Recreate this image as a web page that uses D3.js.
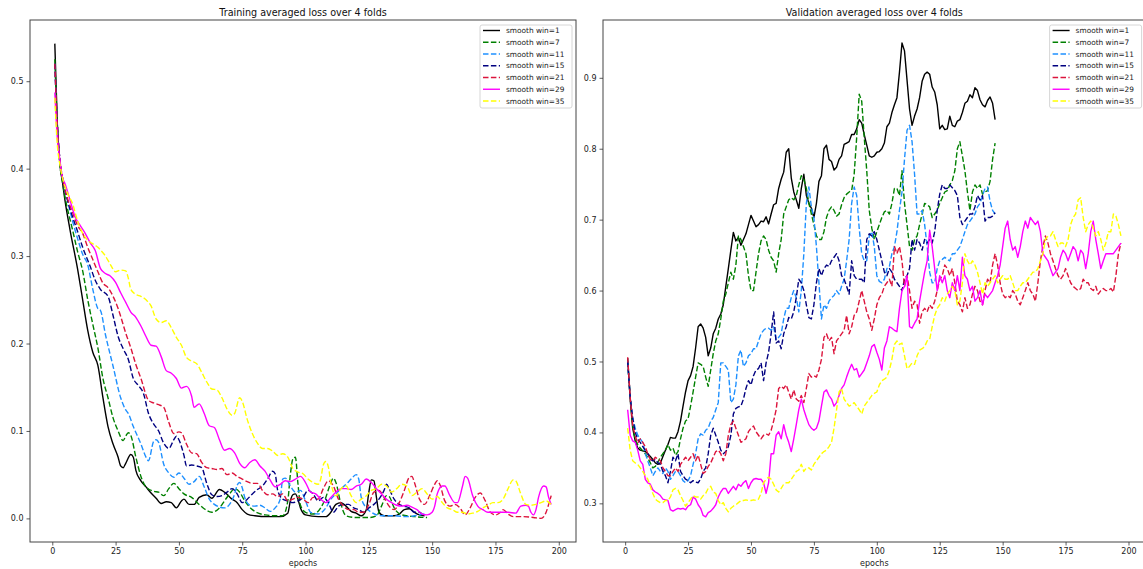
<!DOCTYPE html>
<html>
<head>
<meta charset="utf-8">
<script src="https://cdn.jsdelivr.net/npm/d3@7"></script>
<style>
  html, body { margin: 0; padding: 0; background: #fff; }
  svg { display: block; font-family: "DejaVu Sans", sans-serif; }
</style>
</head>
<body>
<svg id="chart" width="1143" height="569"></svg>
<script>
// ---- legend / series definitions ----
const seriesLabels = ["smooth win=1", "smooth win=7", "smooth win=11", "smooth win=15",
                      "smooth win=21", "smooth win=29", "smooth win=35"];
const seriesColors = ["#000000", "#008000", "#1e90ff", "#000080", "#dc143c", "#ff00ff", "#ffff00"];
const seriesDashed = [false, true, true, true, true, false, true];

const xTicks = [0, 25, 50, 75, 100, 125, 150, 175, 200];
const trainYTicks = [0.0, 0.1, 0.2, 0.3, 0.4, 0.5];
const valYTicks = [0.3, 0.4, 0.5, 0.6, 0.7, 0.8, 0.9];

// ---- training loss, [epoch, loss] ----
const trainWin1 = [[1,0.543],[2,0.45],[3,0.405],[4,0.385],[5,0.364],[7,0.33],[10,0.285],[12,0.25],[14,0.215],[16,0.19],[18,0.175],[20,0.138],[22,0.105],[24,0.085],[26,0.07],[27,0.06],[28,0.058],[29,0.063],[31,0.073],[32,0.07],[33,0.055],[35,0.043],[37,0.036],[39,0.029],[41,0.023],[43,0.017],[45,0.019],[47,0.018],[49,0.012],[51,0.02],[52,0.022],[54,0.016],[56,0.016],[58,0.024],[61,0.027],[63,0.023],[66,0.033],[68,0.03],[71,0.022],[73,0.018],[75,0.01],[77,0.005],[80,0.003],[85,0.002],[90,0.002],[93,0.006],[94,0.02],[95,0.027],[96,0.028],[97,0.022],[98,0.012],[100,0.004],[105,0.002],[108,0.002],[110,0.007],[112,0.016],[114,0.018],[116,0.014],[118,0.008],[120,0.006],[122,0.003],[124,0.01],[125,0.03],[126,0.044],[127,0.043],[128,0.024],[129,0.007],[131,0.003],[135,0.003],[137,0.005],[139,0.01],[141,0.011],[143,0.007],[145,0.004],[147,0.003]];
const trainWin7 = [[1,0.525],[2,0.45],[3,0.405],[4,0.385],[5,0.368],[8,0.33],[10,0.305],[12,0.283],[14,0.25],[16,0.222],[18,0.195],[20,0.16],[22,0.138],[24,0.115],[26,0.1],[28,0.089],[29,0.094],[30,0.098],[31,0.095],[33,0.07],[35,0.048],[37,0.036],[40,0.031],[42,0.03],[44,0.026],[46,0.034],[48,0.04],[50,0.034],[52,0.028],[55,0.024],[58,0.016],[60,0.011],[63,0.007],[66,0.012],[68,0.02],[70,0.028],[72,0.034],[74,0.03],[76,0.02],[79,0.01],[84,0.004],[88,0.003],[91,0.003],[93,0.02],[94,0.05],[95,0.068],[96,0.07],[97,0.04],[98,0.015],[100,0.007],[103,0.005],[106,0.012],[108,0.024],[110,0.041],[111,0.046],[112,0.041],[114,0.016],[116,0.003],[120,0.001],[125,0.001],[128,0.003],[130,0.014],[132,0.026],[133,0.025],[135,0.012],[138,0.004],[143,0.002],[148,0.001]];
const trainWin11 = [[1,0.52],[2,0.45],[3,0.41],[4,0.39],[6,0.364],[8,0.34],[10,0.32],[12,0.302],[14,0.29],[16,0.262],[18,0.24],[19,0.238],[21,0.21],[24,0.174],[27,0.138],[29,0.124],[30,0.12],[32,0.105],[35,0.085],[37,0.07],[38,0.066],[40,0.088],[41,0.09],[42,0.087],[44,0.062],[46,0.052],[48,0.047],[50,0.052],[52,0.046],[54,0.039],[56,0.042],[58,0.048],[60,0.036],[62,0.022],[64,0.016],[66,0.013],[68,0.012],[70,0.016],[72,0.028],[73,0.038],[74,0.041],[75,0.035],[76,0.024],[78,0.015],[80,0.014],[82,0.015],[84,0.012],[86,0.008],[88,0.012],[90,0.022],[91,0.045],[92,0.046],[94,0.037],[96,0.03],[98,0.032],[100,0.02],[102,0.007],[105,0.005],[108,0.012],[110,0.022],[112,0.028],[114,0.034],[116,0.039],[118,0.045],[120,0.05],[121,0.045],[122,0.024],[124,0.012],[126,0.007],[130,0.003],[135,0.003],[140,0.002],[145,0.004],[147,0.005]];
const trainWin15 = [[1,0.52],[2,0.45],[3,0.41],[4,0.39],[6,0.364],[8,0.345],[10,0.328],[12,0.31],[15,0.288],[17,0.272],[19,0.262],[22,0.254],[24,0.232],[26,0.208],[28,0.194],[30,0.182],[32,0.16],[34,0.152],[36,0.143],[38,0.12],[40,0.108],[42,0.1],[44,0.086],[46,0.08],[48,0.09],[49,0.094],[50,0.09],[52,0.072],[53,0.06],[55,0.061],[57,0.06],[59,0.058],[61,0.04],[63,0.027],[65,0.025],[67,0.026],[69,0.03],[71,0.034],[73,0.028],[75,0.018],[77,0.022],[79,0.028],[81,0.033],[83,0.037],[85,0.045],[87,0.054],[88,0.051],[89,0.032],[91,0.022],[93,0.02],[95,0.018],[97,0.02],[99,0.024],[101,0.032],[103,0.028],[105,0.02],[107,0.024],[109,0.018],[111,0.007],[113,0.014],[115,0.016],[117,0.016],[119,0.012],[121,0.01],[123,0.007],[125,0.012],[127,0.016],[129,0.022],[131,0.032],[132,0.039],[133,0.034],[135,0.022],[137,0.016],[139,0.014],[141,0.012],[143,0.007],[145,0.007],[146,0.005]];
const trainWin21 = [[1,0.52],[2,0.45],[3,0.41],[4,0.39],[6,0.366],[8,0.35],[10,0.335],[12,0.326],[14,0.31],[16,0.296],[18,0.282],[20,0.269],[22,0.264],[24,0.254],[26,0.24],[29,0.212],[31,0.195],[33,0.176],[35,0.16],[38,0.135],[40,0.132],[42,0.13],[44,0.127],[46,0.11],[48,0.097],[50,0.099],[51,0.098],[53,0.085],[55,0.075],[57,0.074],[59,0.064],[61,0.058],[63,0.057],[65,0.056],[67,0.057],[69,0.05],[71,0.052],[73,0.048],[75,0.045],[77,0.042],[79,0.04],[81,0.04],[83,0.032],[85,0.027],[87,0.028],[89,0.025],[91,0.028],[93,0.02],[95,0.022],[97,0.024],[99,0.022],[101,0.018],[103,0.024],[105,0.022],[107,0.034],[109,0.043],[111,0.037],[113,0.022],[115,0.014],[117,0.01],[119,0.01],[121,0.007],[123,0.007],[125,0.016],[127,0.03],[129,0.032],[131,0.024],[133,0.014],[135,0.01],[137,0.018],[139,0.032],[141,0.047],[142,0.048],[143,0.041],[145,0.022],[147,0.016],[149,0.026],[151,0.039],[152,0.043],[153,0.039],[155,0.02],[157,0.014],[159,0.016],[161,0.012],[163,0.004],[165,0.012],[167,0.024],[169,0.029],[171,0.02],[173,0.007],[175,0.004],[177,0.007],[178,0.01],[180,0.005],[182,0.002],[186,0.002],[190,0.001],[193,0.0],[195,0.007],[196,0.016],[197,0.026]];
const trainWin29 = [[1,0.487],[2,0.435],[3,0.41],[4,0.39],[5,0.383],[7,0.364],[9,0.345],[11,0.335],[13,0.326],[15,0.315],[17,0.306],[19,0.286],[21,0.28],[23,0.277],[25,0.27],[27,0.258],[29,0.247],[31,0.236],[33,0.23],[35,0.22],[37,0.208],[39,0.198],[41,0.197],[43,0.185],[45,0.169],[47,0.166],[49,0.16],[51,0.149],[53,0.151],[55,0.14],[56,0.127],[58,0.131],[60,0.12],[62,0.106],[64,0.104],[66,0.09],[68,0.078],[70,0.08],[72,0.075],[74,0.063],[76,0.058],[78,0.064],[80,0.067],[82,0.06],[84,0.054],[86,0.044],[88,0.036],[90,0.039],[92,0.043],[94,0.042],[96,0.045],[98,0.048],[100,0.041],[102,0.03],[104,0.028],[106,0.022],[108,0.018],[110,0.024],[112,0.03],[114,0.034],[116,0.034],[118,0.033],[120,0.037],[122,0.039],[124,0.045],[126,0.041],[128,0.034],[130,0.028],[132,0.022],[134,0.018],[136,0.015],[138,0.014],[140,0.015],[142,0.013],[144,0.01],[146,0.005],[148,0.004],[150,0.007],[151,0.014],[152,0.028],[154,0.037],[155,0.037],[157,0.026],[159,0.018],[160,0.018],[162,0.037],[163,0.048],[164,0.046],[166,0.026],[168,0.014],[170,0.01],[172,0.007],[176,0.007],[180,0.007],[183,0.006],[185,0.014],[187,0.015],[188,0.014],[189,0.007],[190,0.004],[191,0.01],[192,0.024],[194,0.037],[195,0.036],[196,0.024],[197,0.016]];
const trainWin35 = [[1,0.481],[2,0.427],[3,0.405],[4,0.39],[6,0.372],[8,0.36],[10,0.34],[12,0.326],[14,0.318],[16,0.314],[18,0.31],[19,0.307],[21,0.3],[23,0.29],[25,0.282],[27,0.284],[29,0.283],[30,0.275],[31,0.262],[33,0.256],[35,0.254],[37,0.25],[39,0.243],[41,0.228],[43,0.224],[45,0.226],[47,0.218],[49,0.207],[51,0.198],[53,0.184],[55,0.18],[57,0.177],[59,0.167],[61,0.156],[63,0.148],[65,0.147],[67,0.138],[69,0.125],[71,0.118],[72,0.12],[74,0.138],[75,0.134],[77,0.113],[79,0.097],[81,0.086],[83,0.08],[85,0.08],[87,0.077],[89,0.072],[91,0.074],[93,0.07],[95,0.057],[97,0.053],[99,0.051],[101,0.045],[103,0.041],[105,0.039],[106,0.045],[107,0.061],[108,0.065],[109,0.059],[110,0.041],[112,0.026],[114,0.034],[116,0.037],[118,0.026],[120,0.018],[122,0.022],[124,0.026],[126,0.032],[128,0.034],[130,0.039],[132,0.037],[134,0.03],[136,0.034],[138,0.039],[140,0.037],[142,0.026],[144,0.03],[146,0.034],[148,0.028],[150,0.022],[152,0.025],[154,0.018],[156,0.012],[158,0.01],[160,0.007],[162,0.007],[164,0.005],[166,0.006],[168,0.008],[170,0.012],[172,0.015],[174,0.018],[176,0.018],[178,0.022],[180,0.034],[182,0.044],[183,0.043],[185,0.028],[187,0.016],[189,0.015],[191,0.016],[193,0.018],[195,0.02],[197,0.016]];

// ---- validation loss, one value per epoch starting at epoch 1 ----
const valWin1 = [0.505,0.447,0.406,0.388,0.378,0.375,0.374,0.373,0.37,0.366,0.362,0.357,0.355,0.357,0.366,0.375,0.383,0.393,0.392,0.392,
  0.401,0.416,0.437,0.457,0.473,0.48,0.493,0.519,0.549,0.553,0.547,0.534,0.508,0.519,0.539,0.547,0.56,0.567,0.58,0.606,
  0.631,0.657,0.682,0.67,0.675,0.664,0.672,0.68,0.693,0.706,0.698,0.69,0.693,0.698,0.697,0.704,0.694,0.708,0.721,0.723,
  0.744,0.757,0.767,0.795,0.8,0.759,0.739,0.728,0.716,0.744,0.764,0.734,0.723,0.716,0.703,0.723,0.754,0.762,0.8,0.805,
  0.785,0.782,0.77,0.774,0.785,0.79,0.806,0.808,0.81,0.82,0.82,0.828,0.841,0.836,0.82,0.805,0.79,0.788,0.79,0.795,
  0.796,0.8,0.808,0.831,0.836,0.851,0.862,0.872,0.908,0.949,0.938,0.897,0.856,0.833,0.846,0.856,0.872,0.895,0.905,0.908,
  0.905,0.887,0.88,0.862,0.828,0.833,0.827,0.828,0.846,0.833,0.831,0.839,0.841,0.851,0.864,0.867,0.876,0.872,0.886,0.882,
  0.869,0.862,0.859,0.868,0.873,0.864,0.841];
const valWin7 = [0.5,0.45,0.41,0.39,0.383,0.378,0.374,0.37,0.364,0.357,0.35,0.352,0.358,0.365,0.37,0.375,0.383,0.375,0.378,0.368,
  0.373,0.391,0.406,0.416,0.419,0.437,0.457,0.478,0.498,0.496,0.493,0.478,0.465,0.488,0.511,0.529,0.539,0.56,0.585,0.595,
  0.611,0.626,0.616,0.636,0.677,0.672,0.662,0.652,0.621,0.6,0.6,0.626,0.652,0.67,0.677,0.672,0.657,0.647,0.642,0.626,
  0.652,0.672,0.708,0.718,0.728,0.731,0.728,0.734,0.749,0.762,0.757,0.744,0.723,0.708,0.693,0.677,0.672,0.672,0.683,0.703,
  0.713,0.718,0.713,0.705,0.708,0.721,0.731,0.736,0.739,0.741,0.764,0.816,0.877,0.867,0.816,0.769,0.713,0.688,0.672,0.683,
  0.693,0.703,0.711,0.713,0.708,0.723,0.744,0.744,0.734,0.769,0.723,0.693,0.662,0.657,0.672,0.677,0.693,0.708,0.723,0.721,
  0.718,0.703,0.708,0.713,0.723,0.731,0.739,0.741,0.749,0.755,0.769,0.8,0.81,0.79,0.769,0.739,0.713,0.739,0.749,0.744,
  0.749,0.736,0.739,0.741,0.754,0.785,0.808];
const valWin11 = [0.5,0.45,0.42,0.406,0.396,0.391,0.386,0.37,0.36,0.35,0.339,0.345,0.35,0.345,0.342,0.35,0.345,0.334,0.339,0.345,
  0.345,0.339,0.332,0.329,0.332,0.339,0.355,0.37,0.391,0.398,0.396,0.403,0.406,0.416,0.421,0.432,0.442,0.498,0.498,0.493,
  0.488,0.442,0.447,0.467,0.508,0.516,0.493,0.498,0.508,0.511,0.518,0.518,0.529,0.539,0.544,0.547,0.547,0.544,0.549,0.531,
  0.534,0.539,0.56,0.575,0.575,0.59,0.6,0.59,0.57,0.6,0.652,0.723,0.746,0.718,0.703,0.662,0.611,0.56,0.58,0.575,
  0.585,0.59,0.593,0.6,0.595,0.606,0.616,0.642,0.672,0.723,0.746,0.734,0.688,0.652,0.642,0.642,0.677,0.683,0.662,0.621,
  0.613,0.611,0.616,0.631,0.634,0.652,0.662,0.683,0.713,0.739,0.785,0.826,0.833,0.81,0.764,0.708,0.708,0.713,0.693,0.662,
  0.626,0.611,0.611,0.631,0.642,0.644,0.647,0.644,0.642,0.652,0.652,0.657,0.662,0.672,0.683,0.693,0.698,0.703,0.708,0.718,
  0.723,0.734,0.744,0.746,0.726,0.713,0.708];
const valWin15 = [0.5,0.45,0.42,0.4,0.39,0.386,0.38,0.375,0.37,0.362,0.36,0.362,0.357,0.355,0.345,0.339,0.329,0.345,0.365,0.36,
  0.37,0.345,0.339,0.334,0.332,0.329,0.332,0.33,0.329,0.334,0.345,0.35,0.37,0.396,0.406,0.396,0.386,0.375,0.37,0.373,
  0.38,0.396,0.426,0.434,0.436,0.437,0.447,0.462,0.473,0.467,0.48,0.488,0.49,0.498,0.473,0.498,0.513,0.539,0.57,0.526,
  0.529,0.518,0.539,0.549,0.562,0.56,0.57,0.59,0.616,0.611,0.6,0.58,0.562,0.56,0.58,0.611,0.631,0.621,0.631,0.636,
  0.634,0.642,0.647,0.652,0.642,0.621,0.616,0.606,0.595,0.642,0.621,0.616,0.616,0.616,0.611,0.672,0.68,0.677,0.683,0.672,
  0.657,0.642,0.626,0.621,0.631,0.626,0.616,0.611,0.606,0.6,0.616,0.621,0.631,0.672,0.657,0.672,0.667,0.657,0.672,0.667,
  0.672,0.667,0.683,0.713,0.736,0.749,0.744,0.744,0.749,0.745,0.741,0.734,0.703,0.693,0.698,0.703,0.708,0.708,0.718,0.734,
  0.728,0.734,0.698,0.703,0.703,0.705,0.71];
const valWin21 = [0.506,0.45,0.41,0.395,0.385,0.391,0.386,0.38,0.37,0.362,0.36,0.365,0.362,0.36,0.35,0.345,0.339,0.339,0.345,0.35,
  0.345,0.355,0.36,0.365,0.36,0.365,0.37,0.36,0.368,0.355,0.342,0.345,0.352,0.357,0.365,0.373,0.375,0.37,0.36,0.37,
  0.396,0.411,0.416,0.406,0.396,0.386,0.388,0.391,0.401,0.406,0.409,0.401,0.396,0.391,0.396,0.398,0.396,0.403,0.416,0.432,
  0.462,0.465,0.462,0.467,0.457,0.447,0.46,0.447,0.444,0.452,0.442,0.462,0.483,0.478,0.48,0.478,0.488,0.503,0.534,0.539,
  0.529,0.534,0.511,0.529,0.534,0.539,0.544,0.565,0.539,0.549,0.565,0.57,0.585,0.6,0.585,0.57,0.56,0.544,0.56,0.58,
  0.59,0.595,0.606,0.611,0.616,0.606,0.662,0.652,0.662,0.642,0.606,0.621,0.6,0.575,0.585,0.58,0.554,0.57,0.575,0.57,
  0.58,0.575,0.585,0.6,0.616,0.621,0.636,0.631,0.621,0.631,0.611,0.585,0.58,0.57,0.59,0.575,0.58,0.595,0.606,0.6,
  0.585,0.58,0.6,0.616,0.611,0.636,0.652,0.636,0.611,0.595,0.59,0.593,0.59,0.6,0.595,0.585,0.58,0.59,0.6,0.611,
  0.6,0.595,0.585,0.611,0.642,0.662,0.677,0.667,0.652,0.642,0.631,0.621,0.616,0.621,0.631,0.621,0.611,0.606,0.603,0.6,
  0.603,0.616,0.611,0.611,0.603,0.6,0.606,0.595,0.6,0.603,0.6,0.6,0.603,0.598,0.621,0.652,0.667];
const valWin29 = [0.432,0.396,0.388,0.386,0.375,0.36,0.355,0.334,0.329,0.327,0.319,0.316,0.314,0.311,0.306,0.305,0.304,0.291,0.289,0.291,
  0.293,0.292,0.293,0.291,0.296,0.298,0.309,0.306,0.298,0.293,0.283,0.281,0.287,0.289,0.293,0.298,0.309,0.316,0.321,0.321,
  0.314,0.319,0.324,0.319,0.327,0.324,0.329,0.332,0.321,0.329,0.334,0.335,0.334,0.334,0.329,0.314,0.329,0.37,0.37,0.396,
  0.401,0.391,0.411,0.396,0.386,0.373,0.391,0.411,0.432,0.447,0.432,0.421,0.411,0.406,0.403,0.406,0.416,0.437,0.457,0.46,
  0.452,0.447,0.437,0.442,0.452,0.462,0.467,0.478,0.488,0.496,0.488,0.49,0.478,0.483,0.488,0.498,0.508,0.521,0.524,0.513,
  0.503,0.488,0.519,0.529,0.549,0.547,0.544,0.542,0.575,0.6,0.606,0.621,0.549,0.547,0.554,0.56,0.585,0.606,0.626,0.642,
  0.685,0.662,0.631,0.6,0.621,0.611,0.621,0.6,0.59,0.611,0.6,0.621,0.6,0.647,0.621,0.616,0.6,0.606,0.585,0.59,
  0.6,0.58,0.595,0.59,0.595,0.6,0.611,0.621,0.636,0.662,0.688,0.698,0.672,0.657,0.662,0.647,0.662,0.683,0.698,0.688,
  0.703,0.698,0.693,0.698,0.683,0.652,0.647,0.642,0.631,0.621,0.626,0.631,0.647,0.657,0.652,0.642,0.652,0.662,0.657,0.642,
  0.657,0.652,0.631,0.652,0.683,0.698,0.672,0.652,0.631,0.642,0.652,0.652,0.652,0.652,0.657,0.662,0.667];
const valWin35 = [0.406,0.375,0.36,0.357,0.355,0.35,0.345,0.339,0.334,0.324,0.314,0.306,0.303,0.301,0.301,0.304,0.304,0.309,0.319,0.321,
  0.319,0.311,0.304,0.296,0.301,0.306,0.311,0.309,0.309,0.306,0.311,0.314,0.321,0.324,0.316,0.314,0.304,0.298,0.301,0.293,
  0.288,0.293,0.296,0.298,0.301,0.304,0.304,0.305,0.304,0.304,0.305,0.304,0.306,0.314,0.329,0.334,0.337,0.334,0.327,0.319,
  0.316,0.321,0.327,0.329,0.329,0.334,0.339,0.345,0.347,0.355,0.345,0.35,0.35,0.347,0.355,0.36,0.365,0.37,0.373,0.375,
  0.38,0.386,0.406,0.432,0.457,0.462,0.447,0.442,0.437,0.439,0.442,0.437,0.432,0.426,0.437,0.442,0.447,0.452,0.455,0.457,
  0.467,0.473,0.475,0.478,0.488,0.503,0.524,0.529,0.524,0.526,0.508,0.49,0.493,0.498,0.496,0.508,0.516,0.518,0.521,0.529,
  0.531,0.549,0.565,0.575,0.58,0.59,0.585,0.595,0.6,0.606,0.6,0.58,0.585,0.611,0.652,0.642,0.636,0.642,0.636,0.626,
  0.611,0.595,0.611,0.606,0.611,0.616,0.621,0.611,0.616,0.621,0.616,0.616,0.621,0.611,0.6,0.6,0.606,0.611,0.611,0.616,
  0.621,0.626,0.626,0.631,0.642,0.652,0.672,0.677,0.677,0.683,0.672,0.662,0.667,0.667,0.662,0.672,0.693,0.703,0.708,0.728,
  0.731,0.703,0.683,0.693,0.698,0.688,0.677,0.683,0.672,0.657,0.667,0.683,0.683,0.708,0.705,0.693,0.677];

const trainSeries = [trainWin1, trainWin7, trainWin11, trainWin15, trainWin21, trainWin29, trainWin35];
const valSeries = [valWin1, valWin7, valWin11, valWin15, valWin21, valWin29, valWin35]
  .map(vals => vals.map((v, i) => [i + 1, v]));

// ---- layout ----
const svg = d3.select("#chart");
const FONT = "'DejaVu Sans', sans-serif";

const panels = [
  { id: "train", title: "Training averaged loss over 4 folds",
    left: 30, right: 576, top: 20, bottom: 542,
    xDomain: [-8.8, 206.8], yDomain: [-0.027, 0.570], yTicks: trainYTicks,
    data: trainSeries, curve: d3.curveMonotoneX },
  { id: "val", title: "Validation averaged loss over 4 folds",
    left: 603, right: 1145.6, top: 20, bottom: 542,
    xDomain: [-8.8, 206.8], yDomain: [0.2455, 0.9815], yTicks: valYTicks,
    data: valSeries, curve: d3.curveLinear }
];

panels.forEach(p => {
  const x = d3.scaleLinear().domain(p.xDomain).range([p.left, p.right]);
  const y = d3.scaleLinear().domain(p.yDomain).range([p.bottom, p.top]);
  const g = svg.append("g").attr("class", "panel-" + p.id);

  // clip to the axes area
  g.append("clipPath").attr("id", "clip-" + p.id)
    .append("rect")
    .attr("x", p.left).attr("y", p.top)
    .attr("width", p.right - p.left).attr("height", p.bottom - p.top);

  // series lines
  const line = d3.line().x(d => x(d[0])).y(d => y(d[1])).curve(p.curve);
  const lines = g.append("g").attr("clip-path", `url(#clip-${p.id})`);
  p.data.forEach((series, i) => {
    lines.append("path")
      .datum(series)
      .attr("d", line)
      .attr("fill", "none")
      .attr("stroke", seriesColors[i])
      .attr("stroke-width", 1.4)
      .attr("stroke-linejoin", "round")
      .attr("stroke-dasharray", seriesDashed[i] ? "5.5,2.4" : null);
  });

  // axes frame
  g.append("rect")
    .attr("x", p.left).attr("y", p.top)
    .attr("width", p.right - p.left).attr("height", p.bottom - p.top)
    .attr("fill", "none").attr("stroke", "#444").attr("stroke-width", 1);

  // x axis
  const xAxis = g.append("g")
    .attr("transform", `translate(0,${p.bottom})`)
    .call(d3.axisBottom(x).tickValues(xTicks).tickFormat(d3.format("d"))
      .tickSize(3.5).tickPadding(3).tickSizeOuter(0));
  xAxis.select(".domain").remove();
  xAxis.selectAll("line").attr("stroke", "#333").attr("stroke-width", 0.8);
  xAxis.selectAll("text").attr("font-family", FONT).attr("font-size", 8).attr("fill", "#222");

  // y axis
  const yAxis = g.append("g")
    .attr("transform", `translate(${p.left},0)`)
    .call(d3.axisLeft(y).tickValues(p.yTicks).tickFormat(d3.format(".1f"))
      .tickSize(3.5).tickPadding(3).tickSizeOuter(0));
  yAxis.select(".domain").remove();
  yAxis.selectAll("line").attr("stroke", "#333").attr("stroke-width", 0.8);
  yAxis.selectAll("text").attr("font-family", FONT).attr("font-size", 8).attr("fill", "#222");

  // x label
  g.append("text")
    .attr("x", (p.left + p.right) / 2).attr("y", 566)
    .attr("text-anchor", "middle")
    .attr("font-family", FONT).attr("font-size", 8).attr("fill", "#222")
    .text("epochs");

  // title
  g.append("text")
    .attr("x", (p.left + p.right) / 2).attr("y", 15.5)
    .attr("text-anchor", "middle")
    .attr("font-family", FONT).attr("font-size", 9.6).attr("fill", "#111")
    .text(p.title);

  // legend (upper right)
  const lw = 92, lh = 83;
  const lx = p.right - 4 - lw, ly = 25;
  const leg = g.append("g").attr("class", "legend");
  leg.append("rect")
    .attr("x", lx).attr("y", ly).attr("width", lw).attr("height", lh)
    .attr("rx", 2).attr("ry", 2)
    .attr("fill", "#fff").attr("fill-opacity", 0.8)
    .attr("stroke", "#ccc").attr("stroke-width", 0.8);
  seriesLabels.forEach((label, i) => {
    const cy = ly + 5.5 + i * 11.75;
    leg.append("line")
      .attr("x1", lx + 3).attr("x2", lx + 20)
      .attr("y1", cy).attr("y2", cy)
      .attr("stroke", seriesColors[i]).attr("stroke-width", 1.4)
      .attr("stroke-dasharray", seriesDashed[i] ? "5.5,2.4" : null);
    leg.append("text")
      .attr("x", lx + 26).attr("y", cy + 2.7)
      .attr("font-family", FONT).attr("font-size", 7.4).attr("fill", "#222")
      .text(label);
  });
});
</script>
</body>
</html>
